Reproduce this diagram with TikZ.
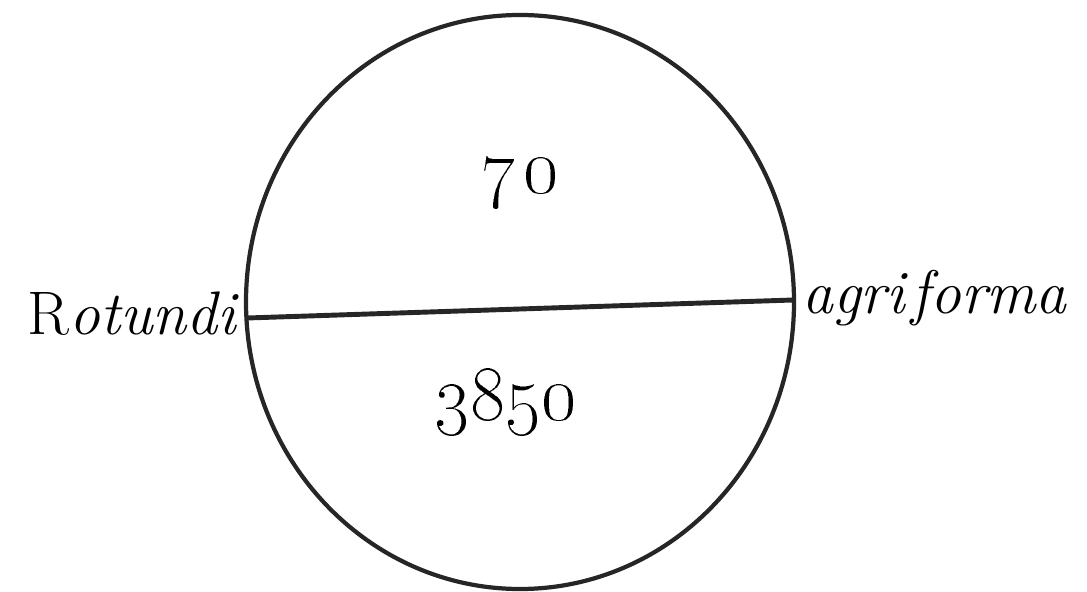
\documentclass[tikz,border=0pt]{standalone}
\usepackage{tikz}
\usetikzlibrary{positioning,calc}

\tikzset{
  ink/.style={line width=2.4pt, draw=black!85},
  lbl/.style={inner sep=0pt, font=\fontsize{35}{40}\selectfont\itshape},
  num/.style={inner sep=0pt, scale=1.8, transform shape,
    font=\fontsize{24.88}{28}\selectfont}
}

\begin{document}
\begin{tikzpicture}[x=0.02cm,y=-0.02cm]
  % Page frame
  \useasboundingbox (0,0) rectangle (1087,591);
  % Round field
  \draw[ink] (520,302) ellipse (274 and 287);
  % Diameter
  \coordinate (west) at (247,318);
  \coordinate (east) at (793,300);
  \draw[ink, line width=2.8pt] (west) -- (east);
  % Numbers
  \node[num] (area) at (520,183) {\oldstylenums{7}\hspace{0.1em}\oldstylenums{0}};
  \node[num] (diam) at (506,402) {\oldstylenums{3850}};
  % Words either side
  \node[lbl, anchor=east] (left) at (236,314) {{\upshape R}otundi};
  \node[lbl, anchor=west] (right) at (802,298) {agri\hspace{0.12em}forma};
\end{tikzpicture}
\end{document}
